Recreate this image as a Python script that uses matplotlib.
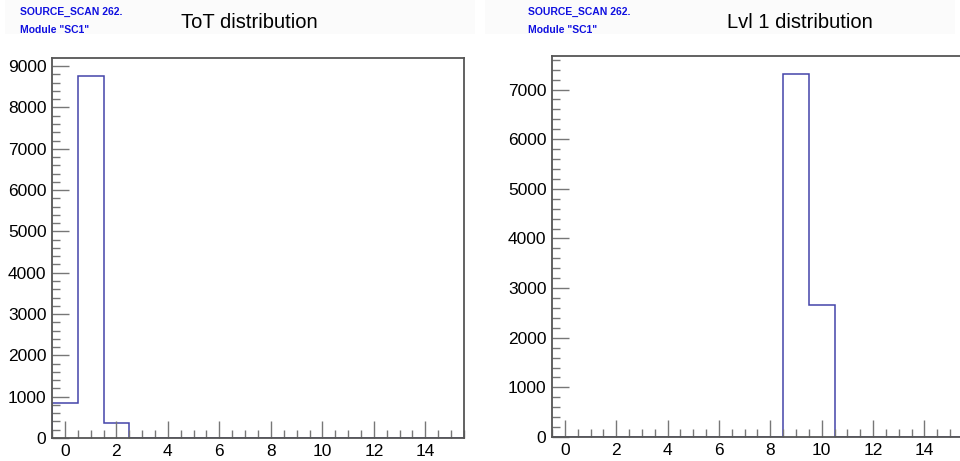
import matplotlib
matplotlib.use("Agg")
import matplotlib.pyplot as plt
import numpy as np
from matplotlib.ticker import MultipleLocator
from matplotlib.patches import Rectangle

plt.rcParams['font.family'] = ['Liberation Sans', 'DejaVu Sans']

bins = list(range(16))
tot_counts = [850, 8760, 370, 0, 0, 0, 0, 0, 0, 0, 0, 0, 0, 0, 0, 0]
lvl1_counts = [0, 0, 0, 0, 0, 0, 0, 0, 0, 7310, 2660, 0, 0, 0, 0, 0]
titles = ["ToT distribution", "Lvl 1 distribution"]
info = ["SOURCE_SCAN 262.", 'Module "SC1"']

W, H = 960, 461
fig = plt.figure(figsize=(W / 100, H / 100), dpi=100)

panels = [
    (tot_counts, titles[0], (52, 58, 464, 438), 0, 20, 249),
    (lvl1_counts, titles[1], (552, 56, 963, 437), 480, 528, 800),
]

edges = np.arange(-0.5, 16, 1.0)
for counts, title, (x0, y0, x1, y1), off, tx, cx in panels:
    ax = fig.add_axes([x0 / W, 1 - y1 / H, (x1 - x0) / W, (y1 - y0) / H])
    ax.stairs(counts, edges, color='#4444aa', linewidth=1.1, zorder=1)
    ax.set_xlim(-0.5, 15.5)
    ax.set_ylim(0, max(counts) * 1.05)
    ax.xaxis.set_major_locator(MultipleLocator(2))
    ax.xaxis.set_minor_locator(MultipleLocator(0.5))
    ax.yaxis.set_major_locator(MultipleLocator(1000))
    ax.yaxis.set_minor_locator(MultipleLocator(200))
    ax.tick_params(which='major', direction='in', length=12, width=1, color='#777777',
                   labelsize=12.5, top=False, right=False, pad=4)
    ax.tick_params(which='minor', direction='in', length=6, width=1, color='#777777',
                   top=False, right=False)
    for s in ax.spines.values():
        s.set_color('#555555')
        s.set_linewidth(1.3)
        s.set_zorder(5)
    fig.patches.append(Rectangle(((off + 5) / W, 1 - 34 / H), 470 / W, 34 / H,
                                 transform=fig.transFigure, facecolor='#fbfbfb',
                                 edgecolor='none', zorder=0))
    fig.text(tx / W, 1 - 12 / H, info[0], color='#1010e0', fontsize=7.5,
             fontweight='bold', va='center', ha='left')
    fig.text(tx / W, 1 - 30 / H, info[1], color='#1010e0', fontsize=7.5,
             fontweight='bold', va='center', ha='left')
    fig.text(cx / W, 1 - 22 / H, title, color='black', fontsize=14.5,
             va='center', ha='center')

fig.savefig("out.png", dpi=100)
